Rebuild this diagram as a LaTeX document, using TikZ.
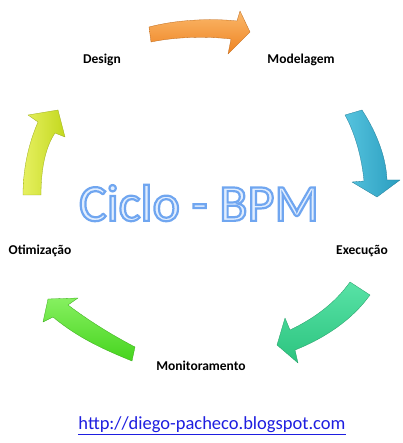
\documentclass[tikz,border=0pt]{standalone}
\usepackage{fontspec}
\setmainfont{Carlito}
\definecolor{orA}{HTML}{FBB86A}
\definecolor{orB}{HTML}{EE8322}
\definecolor{blA}{HTML}{55C3DE}
\definecolor{blB}{HTML}{2A9DBF}
\definecolor{tqA}{HTML}{58E2A6}
\definecolor{tqB}{HTML}{2CC47F}
\definecolor{grA}{HTML}{86F060}
\definecolor{grB}{HTML}{46D41E}
\definecolor{yeA}{HTML}{E6F060}
\definecolor{yeB}{HTML}{C3D81E}
\definecolor{titlefill}{HTML}{E2EEFE}
\definecolor{urlblue}{HTML}{1E1EE0}
\tikzset{
  lbl/.style={font=\bfseries\fontsize{13.5}{15}\selectfont, text=black, inner sep=0pt},
  ttl/.style={font=\fontsize{52}{56}\selectfont, inner sep=0pt},
  arr/.style={draw=#1!80!black, line width=0.3pt, line join=round}
}
\begin{document}
\begin{tikzpicture}[x=1pt,y=-1pt]
\useasboundingbox (0,0) rectangle (402,443);
\fill[white] (0,0) rectangle (402,443);

% orange arrow (Design -> Modelagem)
\path[arr=orB, top color=orA, bottom color=orB]
  (149,27) .. controls (175,20) and (210,18) .. (237,21) -- (240,11) -- (250,32)
  -- (228,54) -- (231,39) .. controls (205,36) and (175,37) .. (151,42) -- cycle;

% blue arrow (Modelagem -> Execucao)
\path[arr=blB, left color=blA, right color=blB]
  (362,110) .. controls (375,130) and (386,155) .. (387,180) -- (400,180) -- (377,197)
  -- (352,182) -- (364,181) .. controls (362,160) and (356,135) .. (345,115) -- cycle;

% teal arrow (Execucao -> Monitoramento)
\path[arr=tqB, top color=tqA, bottom color=tqB]
  (350,282) .. controls (335,303) and (315,318) .. (290,330) -- (285,318) -- (277,345)
  -- (298,363) -- (295,350) .. controls (325,338) and (352,320) .. (370,295) -- cycle;

% green arrow (Monitoramento -> Otimizacao)
\path[arr=grB, top color=grA, bottom color=grB]
  (135,347) .. controls (110,334) and (88,320) .. (68,305) -- (78,298) -- (48,299)
  -- (43,322) -- (53,317) .. controls (78,338) and (105,350) .. (132,361) -- cycle;

% yellow arrow (Otimizacao -> Design)
\path[arr=yeB, left color=yeA, right color=yeB]
  (41,195) .. controls (41,170) and (45,148) .. (55,133) -- (65,137) -- (58,110)
  -- (28,115) -- (38,122) .. controls (28,145) and (23,170) .. (23,195) -- cycle;

% labels
\node[lbl] (design) at (102,60) {Design};
\node[lbl] (model) at (301,60) {Modelagem};
\node[lbl] (exec) at (362,251) {Execução};
\node[lbl] (otim) at (40,251) {Otimização};
\node[lbl] (monit) at (201,366) {Monitoramento};

% title with outline (fill + stroke text render mode)
\node[ttl, text=titlefill] (title) at (199,203)
  {\special{pdf:code 2 Tr 2.2 w 0.44 0.65 0.94 RG}Ciclo - BPM\special{pdf:code 0 Tr}};

% url
\node[font=\fontsize{18.5}{20}\selectfont, text=urlblue, inner sep=0pt] (url) at (212,426)
  {\underline{http://diego-pacheco.blogspot.com}};
\end{tikzpicture}
\end{document}
